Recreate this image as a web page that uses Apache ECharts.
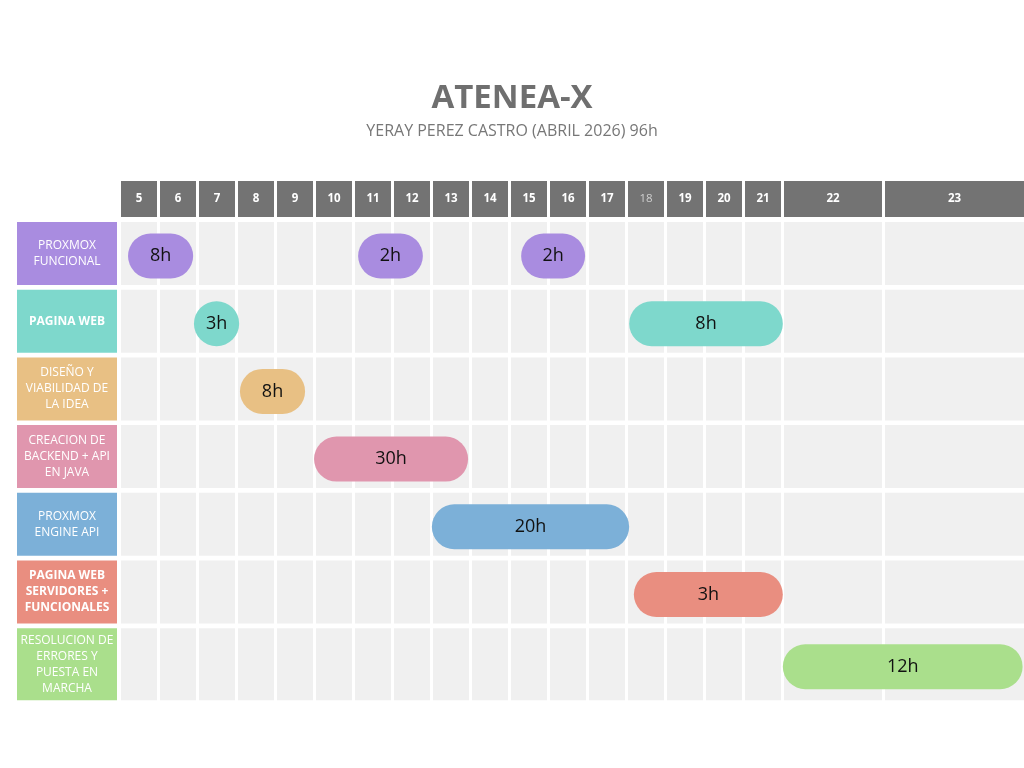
<!DOCTYPE html>
<html><head><meta charset="utf-8">
<script src="https://cdn.jsdelivr.net/npm/echarts@6/dist/echarts.min.js"></script>
<style>html,body{margin:0;padding:0;background:#fff}#c{width:1024px;height:768px}</style>
</head><body><div id="c"></div><script>
// ---- data ----
const days = [5,6,7,8,9,10,11,12,13,14,15,16,17,18,19,20,21,22,23];
const dimDays = [18];
const tasks = [
  'PROXMOX\nFUNCIONAL',
  'PAGINA WEB',
  'DISEÑO Y\nVIABILIDAD DE\nLA IDEA',
  'CREACION DE\nBACKEND + API\nEN JAVA',
  'PROXMOX\nENGINE API',
  'PAGINA WEB\nSERVIDORES +\nFUNCIONALES',
  'RESOLUCION DE\nERRORES Y\nPUESTA EN\nMARCHA'
];
const taskColors = ['#a98ce0','#7ed8cc','#e8c084','#e096ae','#7cb0d8','#e98e80','#aadf8c'];
const boldTasks = [false,true,false,false,false,true,false];
const barTask  = [0, 0, 0, 1, 1, 2, 3, 4, 5, 6];
const barStart = [5.18, 11.08, 15.26, 6.87, 18.03, 8.05, 9.95, 12.97, 18.15, 21.97];
const barEnd   = [6.85, 12.74, 16.90, 8.03, 21.97, 9.72, 13.90, 18.03, 21.97, 23.99];
const barLabel = ['8h','2h','2h','3h','8h','8h','30h','20h','3h','12h'];

// ---- layout ----
const colPx = days.map(d => d === 22 ? 101 : (d === 23 ? 139 : 39));
const colStart = []; let acc = 0; colPx.forEach(w => { colStart.push(acc); acc += w; });
const xMax = acc, xMin = -104, gap = 3;
const rowPitch = 67.7;
const rowPx = tasks.map((t, i) => i === tasks.length - 1 ? 72 : 63);
const rowTop = tasks.map((t, i) => i * rowPitch);
const headerTop = -41, headerBottom = -5;
const yMax = rowTop[rowTop.length - 1] + rowPx[rowPx.length - 1];
const FONT = 'Open Sans';

function dayToX(d) {
  const f = Math.floor(d), i = f - days[0];
  if (i >= days.length) return xMax;
  if (i < 0) return 0;
  return colStart[i] + (d - f) * colPx[i];
}
function cellGap(c) { return c === days.length - 1 ? 0 : gap; }

const headerData = days.map((d, i) => [i]);
const labelData = tasks.map((t, i) => [i]);
const cellData = [];
tasks.forEach((t, r) => days.forEach((d, c) => cellData.push([c, r])));
const barData = barLabel.map((l, i) => [barStart[i], barEnd[i], barTask[i], i]);

const chart = echarts.init(document.getElementById('c'));
chart.setOption({
  animation: false,
  title: {
    text: 'ATENEA-X', subtext: 'YERAY PEREZ CASTRO (ABRIL 2026) 96h',
    left: 'center', top: 77, itemGap: 8,
    textStyle: { fontFamily: FONT, fontSize: 33, fontWeight: 'bold', color: '#6f6f6f' },
    subtextStyle: { fontFamily: FONT, fontSize: 16, color: '#777777' }
  },
  grid: { left: 17, right: 0, top: 181, bottom: 768 - 181 - (yMax - headerTop) },
  xAxis: { type: 'value', min: xMin, max: xMax, show: false },
  yAxis: { type: 'value', min: headerTop, max: yMax, inverse: true, show: false },
  series: [
    {
      type: 'custom', data: cellData, silent: true,
      renderItem: (p, api) => {
        const c = api.value(0), r = api.value(1);
        const a = api.coord([colStart[c], rowTop[r]]);
        const b = api.coord([colStart[c] + colPx[c], rowTop[r] + rowPx[r]]);
        return { type: 'rect', shape: { x: a[0], y: a[1], width: b[0] - a[0] - cellGap(c), height: b[1] - a[1] }, style: { fill: '#f0f0f0' } };
      }
    },
    {
      type: 'custom', data: headerData, silent: true,
      renderItem: (p, api) => {
        const c = api.value(0);
        const a = api.coord([colStart[c], headerTop]);
        const b = api.coord([colStart[c] + colPx[c], headerBottom]);
        const w = b[0] - a[0] - cellGap(c), h = b[1] - a[1];
        const dim = dimDays.indexOf(days[c]) >= 0;
        return { type: 'group', children: [
          { type: 'rect', shape: { x: a[0], y: a[1], width: w, height: h }, style: { fill: '#737373' } },
          { type: 'text', x: a[0] + w / 2, y: a[1] + h / 2, style: { text: String(days[c]), align: 'center', verticalAlign: 'middle',
            fill: dim ? '#cfcfcf' : '#ffffff', fontFamily: FONT, fontSize: 11.5, fontWeight: dim ? 'normal' : 'bold' } }
        ] };
      }
    },
    {
      type: 'custom', data: labelData, silent: true,
      renderItem: (p, api) => {
        const r = api.value(0);
        const a = api.coord([xMin, rowTop[r]]);
        const b = api.coord([-4, rowTop[r] + rowPx[r]]);
        const w = b[0] - a[0], h = b[1] - a[1];
        return { type: 'group', children: [
          { type: 'rect', shape: { x: a[0], y: a[1], width: w, height: h }, style: { fill: taskColors[r] } },
          { type: 'text', x: a[0] + w / 2, y: a[1] + h / 2, style: { text: tasks[r], align: 'center', verticalAlign: 'middle',
            fill: '#ffffff', fontFamily: FONT, fontSize: 12, lineHeight: 16, fontWeight: boldTasks[r] ? 'bold' : 'normal' } }
        ] };
      }
    },
    {
      type: 'custom', data: barData, silent: true,
      renderItem: (p, api) => {
        const s = api.value(0), e = api.value(1), r = api.value(2), i = api.value(3);
        const yc = api.coord([0, rowTop[r] + rowPx[r] / 2])[1] + 2.5;
        const x1 = api.coord([dayToX(s), 0])[0], x2 = api.coord([dayToX(e), 0])[0];
        const h = 45;
        return { type: 'group', children: [
          { type: 'rect', shape: { x: x1, y: yc - h / 2, width: x2 - x1, height: h, r: h / 2 }, style: { fill: taskColors[r] } },
          { type: 'text', x: (x1 + x2) / 2, y: yc, style: { text: barLabel[i], align: 'center', verticalAlign: 'middle',
            fill: '#111111', fontFamily: FONT, fontSize: 18 } }
        ] };
      }
    }
  ]
});
</script></body></html>
